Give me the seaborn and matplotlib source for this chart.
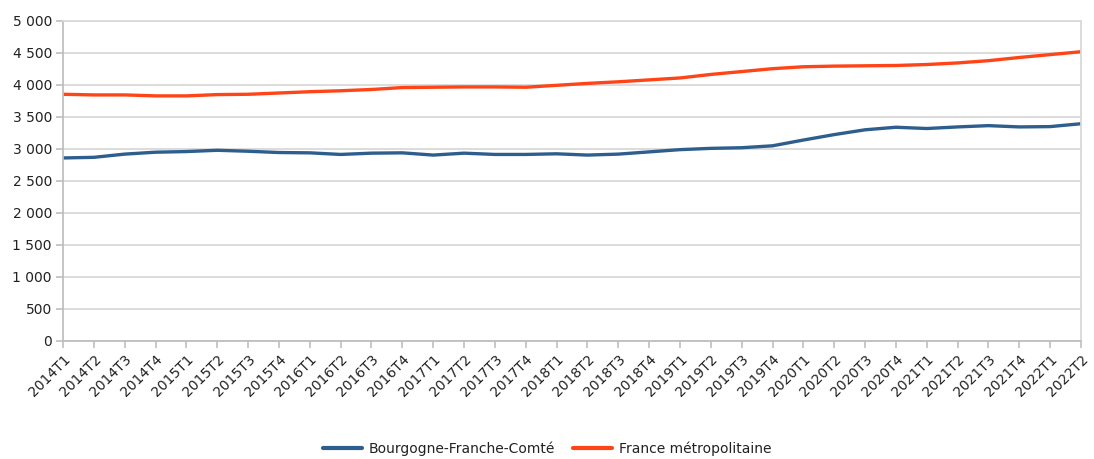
import matplotlib
matplotlib.use("Agg")
import matplotlib.pyplot as plt
import seaborn as sns
import pandas as pd
from matplotlib.ticker import FuncFormatter, MultipleLocator

quarters = [f"{y}T{q}" for y in range(2014, 2023) for q in range(1, 5)][:34]

bfc = [2860, 2870, 2920, 2950, 2960, 2980, 2965, 2945,
       2940, 2915, 2935, 2940, 2905, 2935, 2915, 2915,
       2925, 2905, 2920, 2955, 2990, 3010, 3020, 3050,
       3140, 3225, 3300, 3340, 3320, 3345, 3365, 3345,
       3350, 3395]

france = [3855, 3845, 3845, 3830, 3830, 3850, 3855, 3875,
          3895, 3910, 3930, 3960, 3965, 3970, 3970, 3965,
          3995, 4025, 4050, 4080, 4110, 4165, 4210, 4255,
          4285, 4295, 4300, 4305, 4320, 4345, 4380, 4430,
          4475, 4520]

series_names = ["Bourgogne-Franche-Comté", "France métropolitaine"]
colors = ["#2E5E8E", "#FF4517"]

df = pd.DataFrame({
    "quarter": quarters * 2,
    "pos": list(range(len(quarters))) * 2,
    "value": bfc + france,
    "series": [series_names[0]] * len(quarters) + [series_names[1]] * len(quarters),
})

sns.set_theme(style="white")
plt.rcParams["font.family"] = ["DejaVu Sans"]

fig = plt.figure(figsize=(10.94, 4.59), dpi=100)
ax = fig.add_axes([63 / 1094, 1 - 341 / 459, (1081 - 63) / 1094, 320 / 459])

sns.lineplot(data=df, x="pos", y="value", hue="series", palette=colors,
             linewidth=2.4, ax=ax, legend=True)

ax.set_xlim(0, len(quarters) - 1)
ax.set_ylim(0, 5000)
ax.yaxis.set_major_locator(MultipleLocator(500))
ax.yaxis.set_major_formatter(FuncFormatter(lambda v, p: f"{int(v):,}".replace(",", " ")))
ax.set_xticks(range(len(quarters)))
ax.set_xticklabels(quarters, rotation=45, ha="right", rotation_mode="anchor")
ax.set_xlabel("")
ax.set_ylabel("")

ax.grid(axis="y", color="#D9D9D9", linewidth=1.3)
ax.set_axisbelow(True)
for side in ["top", "right"]:
    ax.spines[side].set_color("#D9D9D9")
    ax.spines[side].set_linewidth(1.3)
for side in ["left", "bottom"]:
    ax.spines[side].set_color("#BFBFBF")
    ax.spines[side].set_linewidth(1.3)

ax.tick_params(axis="both", which="major", length=5, width=1.2, color="#BFBFBF",
               labelsize=10, labelcolor="#222222", left=True, bottom=True, pad=3)

handles, labels = ax.get_legend_handles_labels()
ax.get_legend().remove()
leg = fig.legend(handles, labels, loc="center", bbox_to_anchor=(0.5, 1 - 449 / 459),
                 ncol=2, frameon=False, fontsize=10, handlelength=2.8,
                 columnspacing=1.3, handletextpad=0.5, labelcolor="#222222")
for line in leg.get_lines():
    line.set_linewidth(3)

fig.savefig("out.png", dpi=100)
